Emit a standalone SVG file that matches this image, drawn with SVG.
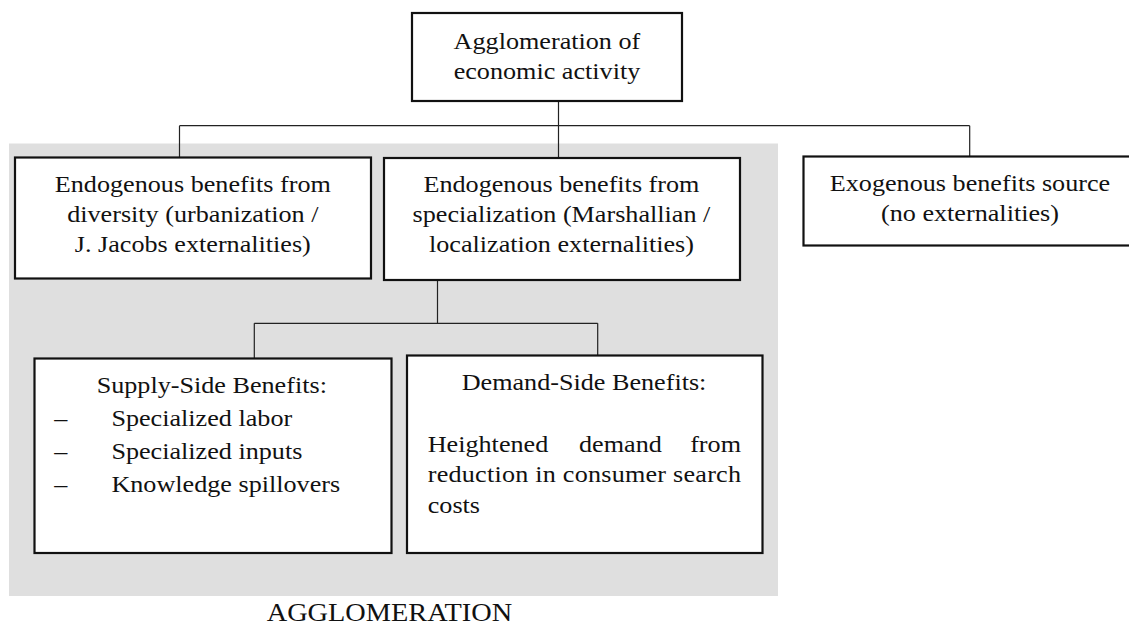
<svg xmlns="http://www.w3.org/2000/svg" width="1129" height="625" viewBox="0 0 1129 625">
  <style>
    .box { fill: #ffffff; stroke: #111111; stroke-width: 2.2; }
    .wire { fill: none; stroke: #222222; stroke-width: 1.2; }
    .t { font-family: "Liberation Serif", "Times New Roman", serif; font-size: 24px; fill: #111111; }
    .c { text-anchor: middle; }
    .e { text-anchor: end; }
  </style>

  <!-- shaded agglomeration zone -->
  <rect id="zone" x="9" y="143.5" width="769" height="452.5" fill="#dfdfdf"/>

  <!-- connectors -->
  <g id="connectors">
    <path class="wire" d="M558.5,101 V157 M179.5,125.7 H969.7 M179.5,125.7 V157 M969.7,125.7 V156"/>
    <path class="wire" d="M437.5,280 V323.3 M254.3,323.3 H597.7 M254.3,323.3 V358 M597.7,323.3 V355"/>
  </g>

  <!-- node boxes -->
  <g id="node-root"><rect class="box" x="412" y="13" width="270" height="88"/></g>
  <g id="node-diversity"><rect class="box" x="15" y="157.5" width="356" height="121"/></g>
  <g id="node-specialization"><rect class="box" x="384" y="158" width="356" height="122"/></g>
  <g id="node-exogenous"><rect class="box" x="803.5" y="156.5" width="340" height="89"/></g>
  <g id="node-supply"><rect class="box" x="34.5" y="358.5" width="357" height="194.5"/></g>
  <g id="node-demand"><rect class="box" x="407" y="355.5" width="355.5" height="197.5"/></g>

  <!-- labels (serif face, slightly widened) -->
  <g id="labels" transform="scale(1.09 1)">
    <text class="t c" x="501.8" y="49">Agglomeration of</text>
    <text class="t c" x="501.8" y="79">economic activity</text>

    <text class="t c" x="176.9" y="192">Endogenous benefits from</text>
    <text class="t c" x="176.9" y="222">diversity (urbanization /</text>
    <text class="t c" x="176.9" y="252">J. Jacobs externalities)</text>

    <text class="t c" x="515.1" y="192">Endogenous benefits from</text>
    <text class="t c" x="515.1" y="222">specialization (Marshallian /</text>
    <text class="t c" x="515.1" y="252">localization externalities)</text>

    <text class="t c" x="889.9" y="191">Exogenous benefits source</text>
    <text class="t c" x="889.9" y="221">(no externalities)</text>

    <text class="t c" x="194.3" y="393">Supply-Side Benefits:</text>
    <text class="t" x="49.8" y="426">–</text>
    <text class="t" x="102.2" y="426">Specialized labor</text>
    <text class="t" x="49.8" y="459">–</text>
    <text class="t" x="102.2" y="459">Specialized inputs</text>
    <text class="t" x="49.8" y="492">–</text>
    <text class="t" x="102.2" y="492">Knowledge spillovers</text>

    <text class="t c" x="535.8" y="390">Demand-Side Benefits:</text>
    <text class="t" x="392.4" y="452">Heightened</text>
    <text class="t" x="531.2" y="452">demand</text>
    <text class="t e" x="679.8" y="452">from</text>
    <text class="t" x="392.4" y="482" textLength="287.4" lengthAdjust="spacing">reduction in consumer search</text>
    <text class="t" x="392.4" y="513">costs</text>

    <text class="t c" x="357.3" y="621" style="font-size:26px">AGGLOMERATION</text>
  </g>
</svg>
